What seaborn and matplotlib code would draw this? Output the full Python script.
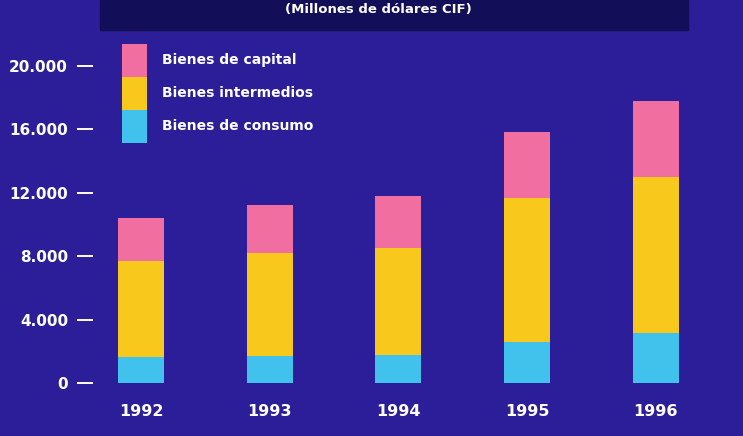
import numpy as np
import pandas as pd
import seaborn as sns
import matplotlib.pyplot as plt
from matplotlib.patches import Patch, Rectangle

# Data (millones de dolares CIF)
years = ["1992", "1993", "1994", "1995", "1996"]
consumo = [1640, 1720, 1770, 2610, 3180]
intermedios = [6070, 6480, 6730, 9060, 9790]
capital = [2690, 3000, 3310, 4170, 4800]
yticks = [0, 4000, 8000, 12000, 16000, 20000]
ytick_labels = ["0", "4.000", "8.000", "12.000", "16.000", "20.000"]
labels = ["Bienes de capital", "Bienes intermedios", "Bienes de consumo"]

bg = "#2c1e98"
c_cap = "#f06ea0"
c_int = "#f8c91c"
c_con = "#40c2ec"

sns.set_theme(style="white")
plt.rcParams["font.family"] = ["Liberation Sans Narrow", "DejaVu Sans"]
plt.rcParams["font.weight"] = "bold"

df = pd.DataFrame({"year": years, "consumo": consumo,
                   "intermedios": intermedios, "capital": capital})
df["lvl2"] = df["consumo"] + df["intermedios"]
df["lvl3"] = df["lvl2"] + df["capital"]

fig = plt.figure(figsize=(7.43, 4.36), dpi=100, facecolor=bg)
ax = fig.add_axes([93 / 743, 1 - 383 / 436, 627 / 743, (383 - 65.7) / 436])
ax.set_facecolor(bg)

# stacked bars: draw cumulative totals back to front
for col, c in [("lvl3", c_cap), ("lvl2", c_int), ("consumo", c_con)]:
    sns.barplot(data=df, x="year", y=col, color=c, saturation=1, width=0.357,
                linewidth=0, ax=ax)

ax.set_xlim(-0.373, 4.5)
ax.set_ylim(0, 20000)
ax.set_yticks(yticks)
ax.set_yticklabels(ytick_labels)
ax.set_xlabel("")
ax.set_ylabel("")
for s in ax.spines.values():
    s.set_visible(False)
ax.tick_params(axis="y", length=11.5, width=1.4, color="white", pad=6.5,
               labelcolor="white", labelsize=11, left=True)
ax.tick_params(axis="x", length=0, pad=15, labelcolor="white", labelsize=11.5)

# title box at top (cut off in the scan)
fig.patches.append(Rectangle((100 / 743, 1 - 30 / 436), 588 / 743, 30 / 436,
                             transform=fig.transFigure, color="#120e58", zorder=0))
fig.text(378 / 743, 1 - 9 / 436, "(Millones de dólares CIF)", color="white",
         fontsize=9.5, ha="center", va="center")

handles = [Patch(facecolor=c, edgecolor="none") for c in (c_cap, c_int, c_con)]
fig.legend(handles, labels, loc="upper left",
           bbox_to_anchor=(122 / 743, 1 - 44 / 436), frameon=False,
           fontsize=10, labelcolor="white", borderpad=0, borderaxespad=0,
           labelspacing=0, handlelength=1.8, handleheight=3.28, handletextpad=1.1)

fig.savefig("out.png", dpi=100, facecolor=bg)
